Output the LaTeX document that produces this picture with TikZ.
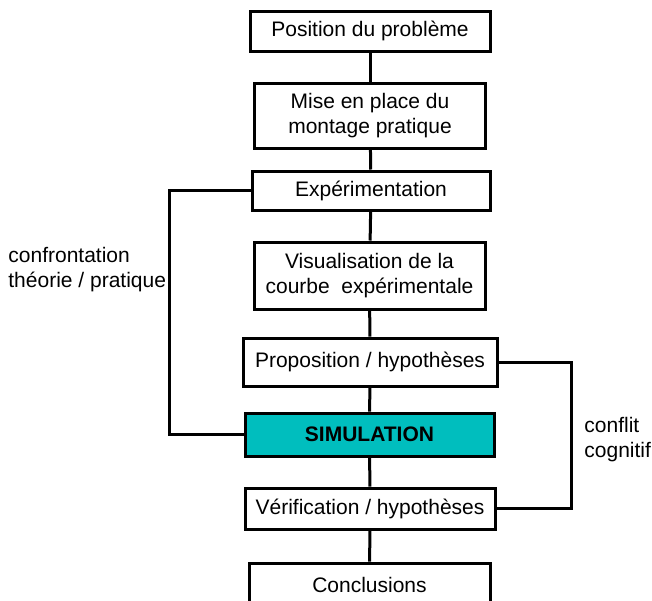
\documentclass[tikz,border=0pt]{standalone}
\usepackage{fontspec}
\setmainfont{Liberation Sans}
\usepackage{tikz}
\usetikzlibrary{arrows.meta}
\definecolor{simteal}{RGB}{0,190,190}
\tikzset{flowstep/.style={rectangle, draw, line width=1.5pt, align=center, inner sep=2pt, font=\fontsize{10.5}{12.5}\selectfont}}
\newcommand{\flowbox}[5] {\node at (#1) (#2) [flowstep, minimum width=#3, minimum height=#4] {#5};}
\newcommand{\flowlink}[2] {\draw [line width=1.5pt] (#1) -- (#2);}
\newcommand{\flowloop}[3] {\draw [line width=1.5pt] (#1) -- ++(#3,0) |- (#2);}

\begin{document}
\begin{tikzpicture}[x=0.5pt, y=-0.5pt]
\clip (0,0) rectangle (652,600);
\useasboundingbox (0,0) rectangle (652,600);

\flowbox {370,31}{position}{120pt}{20pt}{Position du problème};
\flowbox {370,115.5}{montage}{115.5pt}{32.5pt}{Mise en place du\\montage pratique};
\flowbox {371,190.5}{experim}{119pt}{19.5pt}{Expérimentation};
\flowbox {369.5,275.5}{visu}{115.5pt}{33.5pt}{Visualisation de la\\courbe \ expérimentale};
\flowbox {370,362}{proposition}{127pt}{24pt}{Proposition / hypothèses};
\node at (369.5,434.5) (simulation) [flowstep, fill=simteal, minimum width=124.5pt, minimum height=21.5pt] {\textbf{SIMULATION}};
\flowbox {370,508.5}{verification}{125pt}{20.5pt}{Vérification / hypothèses};
\flowbox {369.5,585}{conclusions}{120.5pt}{22pt}{Conclusions};

\flowlink{position}{montage};
\flowlink{montage}{experim};
\flowlink{experim}{visu};
\flowlink{visu}{proposition};
\flowlink{proposition}{simulation};
\flowlink{simulation}{verification};
\flowlink{verification}{conclusions};
\flowloop{experim.west}{simulation.west}{-81};
\flowloop{proposition.east}{verification.east}{73};

\node at (8,270) (confrontation) [anchor=west, align=left, inner sep=0pt, font=\fontsize{10.5}{12.5}\selectfont] {confrontation\\théorie / pratique};
\node at (584,440) (conflit) [anchor=west, align=left, inner sep=0pt, font=\fontsize{10.5}{12.5}\selectfont] {conflit\\cognitif};

\end{tikzpicture}
\end{document}
